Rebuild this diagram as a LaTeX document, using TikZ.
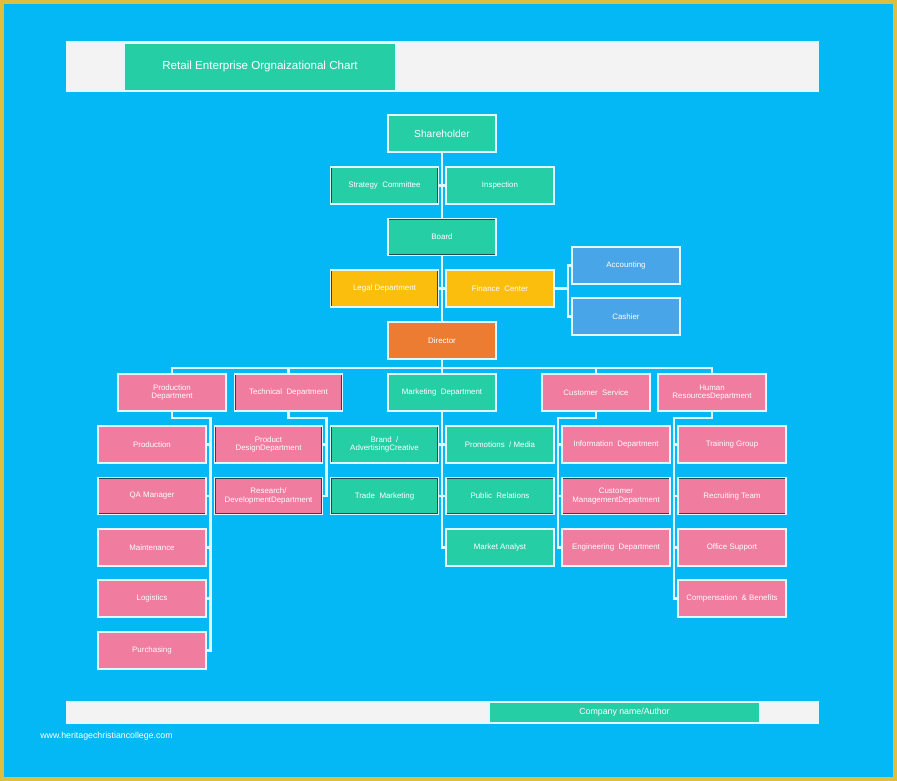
\documentclass[tikz,border=0pt]{standalone}
\usepackage{fontspec}
\setsansfont{Liberation Sans}
\definecolor{skyback}{RGB}{4,184,246}
\definecolor{goldframe}{RGB}{222,190,62}
\definecolor{tealfill}{RGB}{38,206,166}
\definecolor{pinkfill}{RGB}{240,124,160}
\definecolor{amberfill}{RGB}{252,190,12}
\definecolor{bluefill}{RGB}{72,166,232}
\definecolor{orangefill}{RGB}{236,124,50}
\definecolor{barfill}{RGB}{243,243,243}
\definecolor{edgewhite}{RGB}{225,248,255}
\definecolor{edgedark}{RGB}{40,70,80}
\definecolor{linkwhite}{RGB}{222,246,255}
\begin{document}
\begin{tikzpicture}[x=0.02cm, y=-0.02cm,
box/.style={draw=edgewhite, line width=0.8pt, minimum width=2.16cm, minimum height=0.74cm,
  inner sep=1pt, align=center, text=white, font=\sffamily\fontsize{4.5}{5}\selectfont,
  path picture={\draw[edgedark, line width=1.3pt] (path picture bounding box.south west)
    rectangle (path picture bounding box.north east);}},
greenbox/.style={box, fill=tealfill},
pinkbox/.style={box, fill=pinkfill},
amberbox/.style={box, fill=amberfill},
bluebox/.style={box, fill=bluefill},
link/.style={draw=linkwhite, line width=1.7pt},
]
\useasboundingbox (0,0) rectangle (897,781);

% Background and frame
\fill[goldframe] (0,0) rectangle (897,781);
\fill[skyback] (4,4) rectangle (893,777);

% Title bar
\node[draw=edgewhite, line width=0.8pt, fill=barfill, minimum width=15.02cm, minimum height=0.98cm,
  inner sep=0pt] (titlebar) at (442.5,66.5) {};
\node[greenbox, minimum width=5.44cm, minimum height=0.96cm, font=\sffamily\fontsize{6.6}{7}\selectfont]
  (title) at (260,67) {Retail Enterprise Orgnaizational Chart};

% Top of the chart
\node[greenbox, font=\sffamily\fontsize{5.8}{6}\selectfont] (share) at (442,133.5) {Shareholder};
\node[greenbox] (strat) at (384.5,185.5) {Strategy \ Committee};
\node[greenbox] (insp) at (500,185.5) {Inspection};
\node[greenbox] (board) at (442,237) {Board};
\node[amberbox] (legal) at (384.5,288.5) {Legal Department};
\node[amberbox] (fin) at (500,288.5) {Finance \ Center};
\node[bluebox] (acc) at (626,265.5) {Accounting};
\node[bluebox] (cash) at (626,316.5) {Cashier};
\node[box, fill=orangefill] (dir) at (442,340.5) {Director};

% Departments
\node[pinkbox] (prod) at (172,392.5) {Production\\Department};
\node[pinkbox] (tech) at (288.5,392.5) {Technical \ Department};
\node[greenbox] (mkt) at (442,392.5) {Marketing \ Department};
\node[pinkbox] (cust) at (596,392.5) {Customer \ Service};
\node[pinkbox] (hr) at (712,392.5) {Human\\ResourcesDepartment};

% Sub-units of each department
\foreach \n/\y/\txt in {p1/444.5/Production, p2/496/QA Manager, p3/547.5/Maintenance,
  p4/598.5/Logistics, p5/650.5/Purchasing}
  \node[pinkbox] (\n) at (152,\y) {\txt};
\foreach \n/\y/\txt in {t1/444.5/{Product\\DesignDepartment}, t2/496/{Research/\\DevelopmentDepartment}}
  \node[pinkbox] (\n) at (268.5,\y) {\txt};
\foreach \n/\y/\txt in {m1/444.5/{Brand \ /\\AdvertisingCreative}, m2/496/Trade \ Marketing}
  \node[greenbox] (\n) at (384.5,\y) {\txt};
\foreach \n/\y/\txt in {m3/444.5/{Promotions \ / Media}, m4/496/Public \ Relations, m5/547.5/Market Analyst}
  \node[greenbox] (\n) at (500,\y) {\txt};
\foreach \n/\y/\txt in {c1/444.5/Information \ Department, c2/496/{Customer\\ManagementDepartment},
  c3/547.5/Engineering \ Department}
  \node[pinkbox] (\n) at (616,\y) {\txt};
\foreach \n/\y/\txt in {h1/444.5/Training Group, h2/496/Recruiting Team, h3/547.5/Office Support,
  h4/598.5/Compensation \ \& Benefits}
  \node[pinkbox] (\n) at (732,\y) {\txt};

% Footer bar
\node[draw=edgewhite, line width=0.8pt, fill=barfill, minimum width=15.02cm, minimum height=0.42cm,
  inner sep=0pt] (footbar) at (442.5,712.5) {};
\node[greenbox, minimum width=5.42cm, minimum height=0.42cm, font=\sffamily\fontsize{5}{5}\selectfont]
  (author) at (624.5,712.5) {Company name/Author};
\node[anchor=west, inner sep=0pt, text=white, font=\sffamily\fontsize{5}{5}\selectfont]
  (mark) at (40,736) {www.heritagechristiancollege.com};

% Connectors at the top
\coordinate (finbus) at (568,288.5);
\coordinate (dirbus) at (442,368);
\draw[link] (share) -- (board);
\draw[link] (board) -- (dir);
\draw[link] (strat) -- (insp);
\draw[link] (legal) -- (fin);
\draw[link] (fin) -- (finbus);
\draw[link] (acc.west) -| (finbus) |- (cash.west);
\draw[link] (dir) -- (dirbus);
\draw[link] (prod.north) |- (dirbus) -| (hr.north);
\foreach \n in {tech,mkt,cust}
  \draw[link] (\n.north) -- (\n.north |- dirbus);

% Connectors to the sub-units
\coordinate (prodbus) at (210.5,418);
\coordinate (techbus) at (326.5,418);
\coordinate (custbus) at (558,418);
\coordinate (hrbus) at (674,418);
\draw[link] (prod.south) |- (prodbus) |- (p5.east);
\draw[link] (tech.south) |- (techbus) |- (t2.east);
\draw[link] (mkt.south) |- (m5.west);
\draw[link] (cust.south) |- (custbus) |- (c3.west);
\draw[link] (hr.south) |- (hrbus) |- (h4.west);
\foreach \n in {p1,p2,p3,p4}
  \draw[link] (prodbus |- \n.east) -- (\n.east);
\draw[link] (techbus |- t1.east) -- (t1.east);
\foreach \n in {m1,m2}
  \draw[link] (mkt.south |- \n.east) -- (\n.east);
\foreach \n in {m3,m4}
  \draw[link] (mkt.south |- \n.west) -- (\n.west);
\foreach \n in {c1,c2}
  \draw[link] (custbus |- \n.west) -- (\n.west);
\foreach \n in {h1,h2,h3}
  \draw[link] (hrbus |- \n.west) -- (\n.west);

\end{tikzpicture}
\end{document}
